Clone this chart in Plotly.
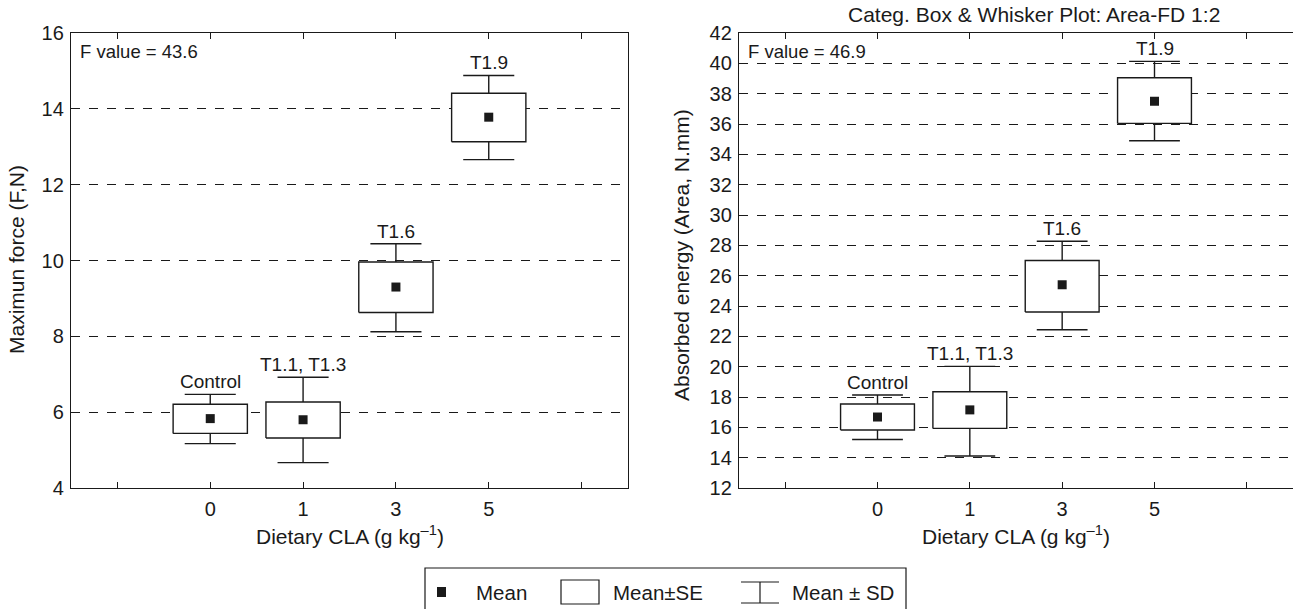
import plotly.graph_objects as go

# ---------------- data ----------------
tick_labels = ["0", "1", "3", "5"]
group_labels = ["Control", "T1.1, T1.3", "T1.6", "T1.9"]
positions = [1, 2, 3, 4]

force_mean = [5.83, 5.80, 9.30, 13.78]
force_se_lo = [5.44, 5.32, 8.63, 13.13]
force_se_hi = [6.21, 6.27, 9.96, 14.41]
force_sd_lo = [5.17, 4.67, 8.12, 12.66]
force_sd_hi = [6.47, 6.92, 10.44, 14.88]
force_F = "F value = 43.6"

energy_mean = [16.68, 17.15, 25.40, 37.50]
energy_se_lo = [15.82, 15.93, 23.60, 36.04]
energy_se_hi = [17.54, 18.35, 27.00, 39.05]
energy_sd_lo = [15.20, 14.11, 22.43, 34.90]
energy_sd_hi = [18.13, 20.02, 28.27, 40.13]
energy_F = "F value = 46.9"

legend_labels = ["Mean", "Mean\u00b1SE", "Mean \u00b1 SD"]

W, H = 1293, 609
FONT = "Liberation Sans, Arial, sans-serif"
INK = "#1a1a1a"
BOX_HALF = 0.4
CAP_HALF = 0.275


def px(x):
    return x / W


def py(y):
    return 1 - y / H


fig = go.Figure()

panels = [
    ("x", "y", force_mean, force_se_lo, force_se_hi, force_sd_lo, force_sd_hi, force_F),
    ("x2", "y2", energy_mean, energy_se_lo, energy_se_hi, energy_sd_lo, energy_sd_hi, energy_F),
]

annotations = []
for xa, ya, mean, slo, shi, dlo, dhi, ftxt in panels:
    # whiskers + caps
    wx, wy = [], []
    for p, a, b, c, d in zip(positions, slo, shi, dlo, dhi):
        wx += [p, p, None, p, p, None,
               p - CAP_HALF, p + CAP_HALF, None, p - CAP_HALF, p + CAP_HALF, None]
        wy += [b, d, None, a, c, None, d, d, None, c, c, None]
    fig.add_trace(go.Scatter(
        x=wx, y=wy, mode="lines", line=dict(color=INK, width=1.4),
        hoverinfo="skip", showlegend=False, xaxis=xa, yaxis=ya,
    ))
    # SE boxes
    bx, by = [], []
    for p, a, b in zip(positions, slo, shi):
        bx += [p - BOX_HALF, p + BOX_HALF, p + BOX_HALF, p - BOX_HALF, p - BOX_HALF, None]
        by += [a, a, b, b, a, None]
    fig.add_trace(go.Scatter(
        x=bx, y=by, mode="lines", fill="toself", fillcolor="white",
        line=dict(color=INK, width=1.4),
        hoverinfo="skip", showlegend=False, xaxis=xa, yaxis=ya,
    ))
    # means
    fig.add_trace(go.Scatter(
        x=positions, y=mean, mode="markers",
        marker=dict(symbol="square", size=9, color=INK),
        hoverinfo="skip", showlegend=False, xaxis=xa, yaxis=ya,
    ))
    for p, top, lab in zip(positions, dhi, group_labels):
        annotations.append(dict(
            x=p, y=top, xref=xa, yref=ya, text=lab, showarrow=False,
            yanchor="bottom", yshift=0, font=dict(family=FONT, size=19, color=INK),
        ))
    annotations.append(dict(
        x=0.012, y=1.0, xref=f"{xa} domain", yref=f"{ya} domain", text=ftxt,
        showarrow=False, xanchor="left", yanchor="top", yshift=-6,
        font=dict(family=FONT, size=18.5, color=INK),
    ))

xaxis_common = dict(
    range=[-0.5, 5.5], tickmode="array", tickvals=[1, 2, 3, 4],
    ticktext=tick_labels, ticks="inside", ticklen=6,
    tickcolor=INK, showline=True, linecolor=INK, linewidth=1.4,
    mirror="allticks", showgrid=False, zeroline=False, automargin=False,
    ticklabelstandoff=3,
    minor=dict(tickmode="array", tickvals=[0, 5], ticks="inside", ticklen=6,
               tickcolor=INK, showgrid=False),
    tickfont=dict(family=FONT, size=20, color=INK),
)
yaxis_common = dict(
    dtick=2, ticks="", showline=True, linecolor=INK, linewidth=1.4,
    mirror=True, showgrid=True, gridcolor=INK, griddash="dash", gridwidth=1,
    zeroline=False, automargin=False, ticklabelstandoff=2,
    tickfont=dict(family=FONT, size=20, color=INK),
)

fig.update_layout(
    width=W, height=H, margin=dict(l=0, r=0, t=0, b=0, autoexpand=False),
    paper_bgcolor="white", plot_bgcolor="white",
    xaxis=dict(domain=[px(71), px(628)], anchor="y", **xaxis_common),
    yaxis=dict(domain=[py(488), py(33)], range=[4, 16], anchor="x", **yaxis_common),
    xaxis2=dict(domain=[px(739), 1.0], anchor="y2", **xaxis_common),
    yaxis2=dict(domain=[py(488), py(33)], range=[12, 42], anchor="x2", **yaxis_common),
    showlegend=False,
)

# axis titles
title_font = dict(family=FONT, size=21, color=INK)
for xc in ((71 + 628) / 2, (739 + 1293) / 2):
    annotations.append(dict(
        x=px(xc), y=py(535), xref="paper", yref="paper", showarrow=False,
        text="Dietary CLA (g kg<sup>\u20131</sup>)", xanchor="center", yanchor="middle",
        font=title_font,
    ))
annotations.append(dict(
    x=px(17), y=py(260), xref="paper", yref="paper", showarrow=False, textangle=-90,
    text="Maximun force (F,N)", xanchor="center", yanchor="middle", font=title_font,
))
annotations.append(dict(
    x=px(681), y=py(255), xref="paper", yref="paper", showarrow=False, textangle=-90,
    text="Absorbed energy (Area, N.mm)", xanchor="center", yanchor="middle", font=title_font,
))
annotations.append(dict(
    x=px(1034), y=py(15), xref="paper", yref="paper", xanchor="center", yanchor="middle",
    text="Categ. Box & Whisker Plot: Area-FD 1:2", showarrow=False, font=title_font,
))

# ---------------- legend (drawn manually) ----------------
shapes = []
shapes.append(dict(type="rect", xref="paper", yref="paper",
                   x0=px(425), x1=px(906), y0=py(615), y1=py(568),
                   line=dict(color=INK, width=1.2), fillcolor="white", layer="above"))
shapes.append(dict(type="rect", xref="paper", yref="paper",
                   x0=px(437), x1=px(446), y0=py(597), y1=py(587),
                   line=dict(color=INK, width=0), fillcolor=INK, layer="above"))
shapes.append(dict(type="rect", xref="paper", yref="paper",
                   x0=px(561), x1=px(599), y0=py(604), y1=py(580),
                   line=dict(color=INK, width=1.2), fillcolor="white", layer="above"))
for yy in (582, 603):
    shapes.append(dict(type="line", xref="paper", yref="paper",
                       x0=px(741), x1=px(779), y0=py(yy), y1=py(yy),
                       line=dict(color=INK, width=1.2), layer="above"))
shapes.append(dict(type="line", xref="paper", yref="paper",
                   x0=px(760), x1=px(760), y0=py(582), y1=py(603),
                   line=dict(color=INK, width=1.2), layer="above"))
for xx, lab in zip((474, 611, 790), legend_labels):
    annotations.append(dict(
        x=px(xx), y=py(592), xref="paper", yref="paper", text=lab,
        showarrow=False, xanchor="left", yanchor="middle",
        font=dict(family=FONT, size=20.5, color=INK),
    ))

fig.update_layout(annotations=annotations, shapes=shapes)
fig.write_html("out.html", config={"displayModeBar": False},
               post_script="document.body.style.margin='0px';")
